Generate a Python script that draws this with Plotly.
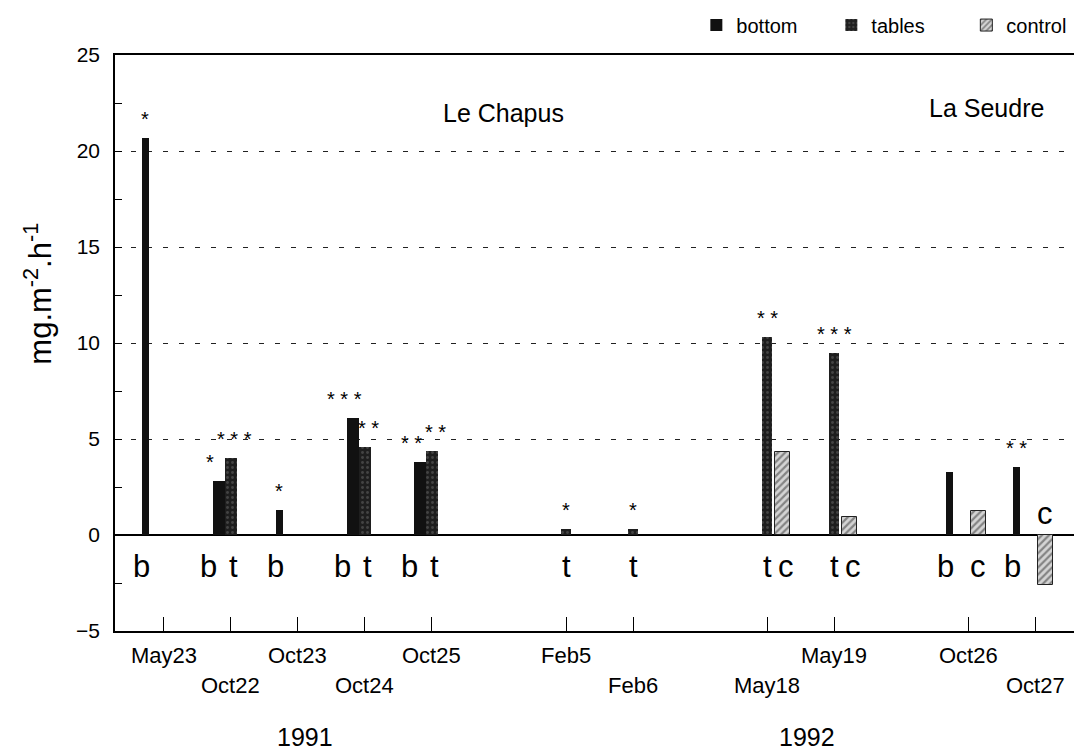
import plotly.graph_objects as go

# ---------------- data ----------------
dates = ["May23", "Oct22", "Oct23", "Oct24", "Oct25", "Feb5", "Feb6",
         "May18", "May19", "Oct26", "Oct27"]
date_pos = [1, 2, 3, 4, 5, 7, 8, 10, 11, 13, 14]
date_label_row = [1, 2, 1, 2, 1, 1, 2, 2, 1, 1, 2]

years = ["1991", "1992"]
year_x = [3.1, 10.6]

sites = ["Le Chapus", "La Seudre"]
site_x = [6.07, 13.28]
site_y = [22.0, 22.25]

bar_date = ["May23", "Oct22", "Oct22", "Oct23", "Oct24", "Oct24", "Oct25", "Oct25",
            "Feb5", "Feb6", "May18", "May18", "May19", "May19",
            "Oct26", "Oct26", "Oct27", "Oct27"]
bar_type = ["b", "b", "t", "b", "b", "t", "b", "t",
            "t", "t", "t", "c", "t", "c",
            "b", "c", "b", "c"]
bar_value = [20.7, 2.8, 4.0, 1.3, 6.1, 4.6, 3.8, 4.4,
             0.3, 0.3, 10.3, 4.3, 9.5, 0.95,
             3.3, 1.25, 3.55, -2.6]
bar_stars = ["*", "*", "***", "*", "***", "**", "**", "**",
             "*", "*", "**", "", "***", "",
             "", "", "**", ""]

series = [("b", "bottom"), ("t", "tables"), ("c", "control")]

# ---------------- geometry helpers ----------------
pos_of = dict(zip(dates, date_pos))
types_at = {}
for d, t in zip(bar_date, bar_type):
    types_at.setdefault(d, set()).add(t)


def paired(d):
    return "b" in types_at[d] and "t" in types_at[d]


def bar_x(d, t):
    p = pos_of[d]
    if t == "b":
        return p - (0.18 if paired(d) else 0.28)
    if t == "t":
        return p
    return p + (0.23 if "t" in types_at[d] else 0.16)


def bar_w(d, t):
    if t == "b":
        return 0.18 if paired(d) else 0.1
    if t == "t":
        return 0.18 if paired(d) else 0.14
    return 0.22


def star_x(d, t):
    x = bar_x(d, t)
    if paired(d):
        x += -0.13 if t == "b" else 0.06
    return x


def label_x(d, t):
    p = pos_of[d]
    if t == "b":
        return p - 0.34
    if t == "t":
        return p + (0.04 if paired(d) else 0.0)
    return p + (0.28 if "t" in types_at[d] else 0.15)


styles = {
    "b": dict(color="#111111", line=dict(width=0)),
    "t": dict(color="#1e1e1e", line=dict(width=0),
              pattern=dict(shape=".", fgcolor="#6a6a6a", bgcolor="#1e1e1e",
                           size=5, solidity=0.25)),
    "c": dict(color="#c8c8c8", line=dict(width=1, color="#222"),
              pattern=dict(shape="/", fgcolor="#333333", bgcolor="#d4d4d4",
                           size=5, solidity=0.45)),
}

fig = go.Figure()
for key, name in series:
    idx = [i for i, t in enumerate(bar_type) if t == key]
    fig.add_trace(go.Bar(
        x=[bar_x(bar_date[i], key) for i in idx],
        y=[bar_value[i] for i in idx],
        width=[bar_w(bar_date[i], key) for i in idx],
        name=name,
        marker=styles[key],
        showlegend=True,
    ))

annotations = []
FONT = "Arial, Liberation Sans, Helvetica, sans-serif"

# significance stars
for d, t, v, s in zip(bar_date, bar_type, bar_value, bar_stars):
    if s:
        annotations.append(dict(
            x=star_x(d, t), y=max(v, 0), xref="x", yref="y",
            text=" ".join(s), showarrow=False, yanchor="bottom", yshift=6,
            font=dict(size=20, family=FONT, color="black")))

# letters under/over bars
for d, t, v in zip(bar_date, bar_type, bar_value):
    annotations.append(dict(
        x=label_x(d, t), y=(-1.62 if v >= 0 else 1.1),
        xref="x", yref="y",
        text=t, showarrow=False, yanchor="middle",
        font=dict(size=31, family=FONT, color="black")))

# date labels (two staggered rows)
for d, p, r in zip(dates, date_pos, date_label_row):
    annotations.append(dict(
        x=p, y=(-0.0417 if r == 1 else -0.094), xref="x", yref="paper",
        text=d, showarrow=False, yanchor="middle",
        font=dict(size=22, family=FONT, color="black")))

# years
for yl, xx in zip(years, year_x):
    annotations.append(dict(
        x=xx, y=-0.184, xref="x", yref="paper", text=yl, showarrow=False,
        yanchor="middle", font=dict(size=25, family=FONT, color="black")))

# site names
for sname, xx, yy in zip(sites, site_x, site_y):
    annotations.append(dict(
        x=xx, y=yy, xref="x", yref="y", text=sname, showarrow=False,
        yanchor="middle", font=dict(size=25, family=FONT, color="black")))

# y-axis title
annotations.append(dict(
    x=-0.08, y=0.585, xref="paper", yref="paper",
    text="mg.m<sup>-2</sup>.h<sup>-1</sup>", textangle=-90, showarrow=False,
    xanchor="center", yanchor="middle",
    font=dict(size=31, family=FONT, color="black")))

# the page body adds an 8px offset; size the figure so the plot area
# sits at the reference position inside the 1082x753 window
fig.update_layout(
    width=1074, height=745,
    margin=dict(l=107, r=0, t=47, b=122, autoexpand=False),
    paper_bgcolor="white", plot_bgcolor="white",
    font=dict(family=FONT, color="black"),
    barmode="overlay",
    bargap=0,
    annotations=annotations,
    legend=dict(orientation="h", x=1.02, xanchor="right", y=1.052,
                yanchor="middle", font=dict(size=20, family=FONT),
                bgcolor="rgba(0,0,0,0)", itemwidth=30,
                entrywidth=90, entrywidthmode="pixels"),
    xaxis=dict(range=[0.27, 14.7], tickmode="array", tickvals=date_pos,
               ticks="inside", ticklen=14, tickcolor="black", tickwidth=1,
               showticklabels=False, showline=True, linecolor="black",
               linewidth=2, mirror=True, showgrid=False, zeroline=False),
    yaxis=dict(range=[-5, 25], tickmode="array",
               tickvals=[-5, 0, 5, 10, 15, 20, 25],
               ticks="inside", ticklen=7, tickcolor="black", tickwidth=1,
               tickfont=dict(size=21, family=FONT),
               ticklabelstandoff=9,
               showline=True, linecolor="black", linewidth=1.5,
               showgrid=True, gridcolor="#222", gridwidth=1,
               griddash="5px,11px",
               zeroline=True, zerolinecolor="black", zerolinewidth=2,
               minor=dict(dtick=2.5, tick0=0, ticks="inside", ticklen=7,
                          tickcolor="black", showgrid=False)),
)

fig.write_html("out.html")
